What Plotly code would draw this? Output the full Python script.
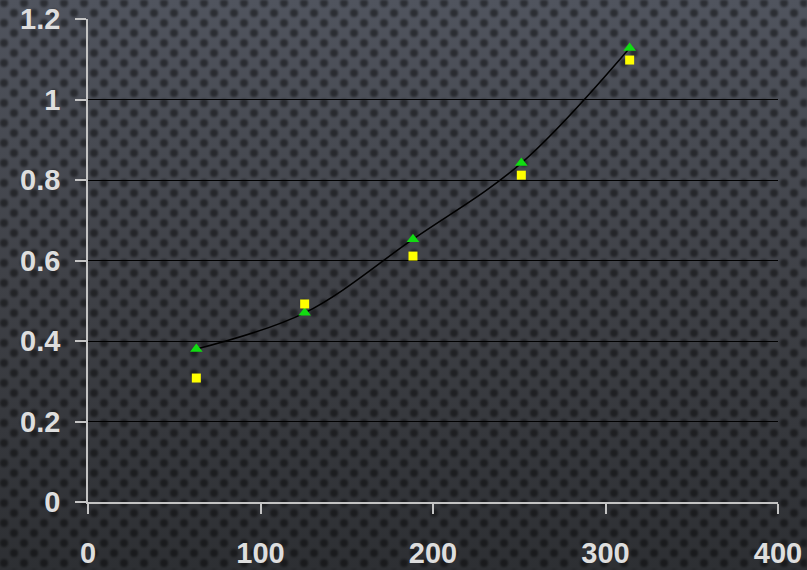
import base64
import plotly.graph_objects as go

# Data
x_vals = [62.8, 125.6, 188.4, 251.2, 314.0]
green_vals = [0.380, 0.470, 0.653, 0.842, 1.128]
yellow_vals = [0.308, 0.492, 0.611, 0.812, 1.098]
x_ticks = [0, 100, 200, 300, 400]
y_ticks = [0, 0.2, 0.4, 0.6, 0.8, 1.0, 1.2]

W, H = 807, 570
ML, MR, MT, MB = 88, 29, 19, 68
PW, PH = W - ML - MR, H - MT - MB

svg = f"""<svg xmlns='http://www.w3.org/2000/svg' width='{W}' height='{H}'>
<defs>
<linearGradient id='g' x1='0' y1='0' x2='0' y2='1'>
<stop offset='0' stop-color='#50545e'/>
<stop offset='0.5' stop-color='#3f4147'/>
<stop offset='1' stop-color='#2d2f33'/>
</linearGradient>
<filter id='b'><feGaussianBlur stdDeviation='1.3'/></filter>
<pattern id='p' width='20' height='20' patternUnits='userSpaceOnUse'>
<circle cx='4' cy='3' r='4' fill='#000' fill-opacity='0.45'/>
<circle cx='14' cy='13' r='4' fill='#000' fill-opacity='0.45'/>
<circle cx='24' cy='23' r='4' fill='#000' fill-opacity='0.45'/>
<circle cx='-6' cy='13' r='4' fill='#000' fill-opacity='0.45'/>
<circle cx='4' cy='23' r='4' fill='#000' fill-opacity='0.45'/>
<circle cx='14' cy='-7' r='4' fill='#000' fill-opacity='0.45'/>
</pattern>
</defs>
<rect width='{W}' height='{H}' fill='url(#g)'/>
<rect width='{W}' height='{H}' fill='url(#p)' filter='url(#b)'/>
</svg>"""
bg_uri = "data:image/svg+xml;base64," + base64.b64encode(svg.encode()).decode()

fig = go.Figure()
fig.add_trace(go.Scatter(
    x=x_vals, y=green_vals, mode="lines+markers",
    line=dict(color="black", width=1.5, shape="spline", smoothing=1),
    marker=dict(symbol="triangle-up", size=11, color="#12dc12"),
    showlegend=False,
))
fig.add_trace(go.Scatter(
    x=x_vals, y=yellow_vals, mode="markers",
    marker=dict(symbol="square", size=9, color="#ffff00"),
    showlegend=False,
))

tickfont = dict(family="Liberation Sans, Arial, sans-serif", size=29,
                color="#dedede", weight="bold")

fig.update_layout(
    width=W, height=H,
    margin=dict(l=ML, r=MR, t=MT, b=MB, pad=0, autoexpand=False),
    paper_bgcolor="#3a3c41",
    plot_bgcolor="rgba(0,0,0,0)",
    hovermode=False,
    images=[dict(
        source=bg_uri, xref="paper", yref="paper",
        x=-ML / PW, y=1 + MT / PH, sizex=W / PW, sizey=H / PH,
        xanchor="left", yanchor="top", sizing="stretch", layer="below",
    )],
    xaxis=dict(
        range=[0, 400], tickvals=x_ticks, showgrid=False, zeroline=False,
        showline=True, linecolor="#c4c4c4", linewidth=1.5,
        ticks="outside", ticklen=10, tickwidth=1.5, tickcolor="#c4c4c4",
        tickfont=tickfont, ticklabelstandoff=14, automargin=False,
    ),
    yaxis=dict(
        range=[0, 1.2], tickvals=y_ticks, showgrid=True, gridcolor="#000000",
        gridwidth=1, zeroline=False,
        showline=True, linecolor="#c4c4c4", linewidth=1.5,
        ticks="outside", ticklen=11, tickwidth=1.5, tickcolor="#c4c4c4",
        tickfont=tickfont, ticklabelstandoff=9, automargin=False,
    ),
)

fig.write_html(
    "out.html",
    config={"displayModeBar": False},
    post_script="document.body.style.margin='0';document.body.style.overflow='hidden';",
)
